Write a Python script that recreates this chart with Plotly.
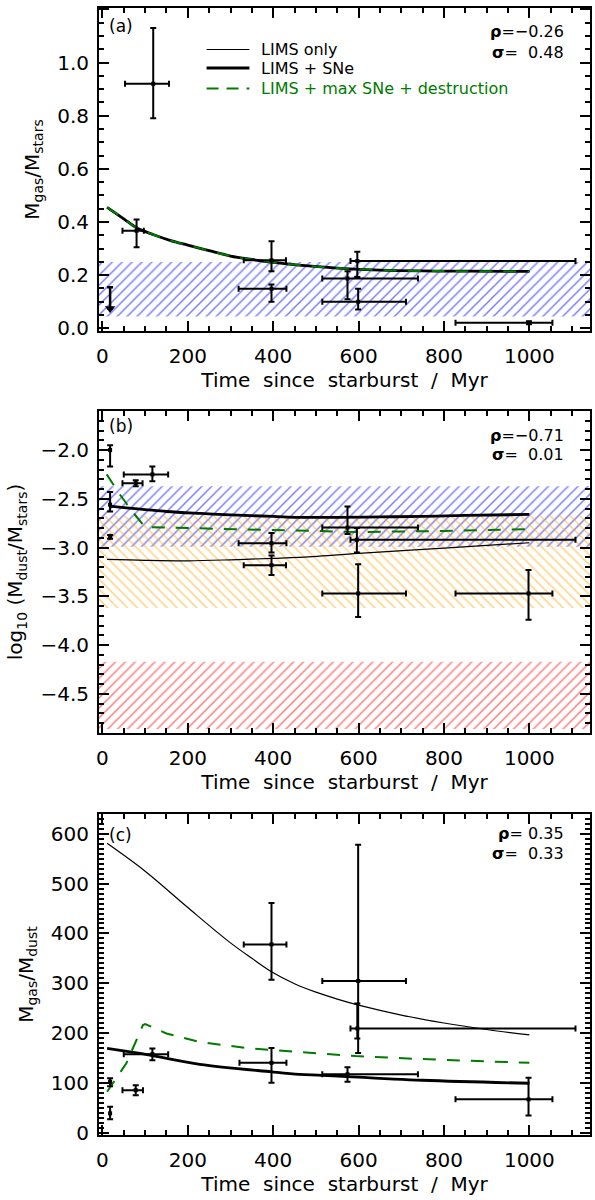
import plotly.graph_objects as go

FONT = "DejaVu Sans"
GREEN = "#007a00"
NB = "\u00a0"

# ---------------- shared x axis ----------------
x_range = [-8, 1142]
x_ticks = [0, 200, 400, 600, 800, 1000]

# ---------------- panel (a): Mgas/Mstars ----------------
a_x = [80, 119, 396, 396, 574, 597, 599, 999]
a_xlo = [47, 53, 319, 331, 515, 581, 515, 827]
a_xhi = [97, 156, 431, 430, 739, 1108, 711, 1054]
a_y = [0.367, 0.92, 0.149, 0.256, 0.1875, 0.253, 0.100, 0.021]
a_ylo = [0.305, 0.79, 0.100, 0.215, 0.109, 0.193, 0.071, 0.015]
a_yhi = [0.409, 1.13, 0.165, 0.328, 0.215, 0.288, 0.149, 0.027]
a_ul_x = [18]
a_ul_top = [0.155]
a_ul_tip = [0.075]
a_band = [0.045, 0.25]
a_model_t = [11, 50, 80, 120, 160, 200, 250, 300, 350, 400, 460, 520, 578, 650, 750, 850, 1000]
a_model_y = [0.455, 0.412, 0.378, 0.352, 0.330, 0.313, 0.292, 0.272, 0.259, 0.248, 0.238,
             0.230, 0.224, 0.219, 0.216, 0.215, 0.214]

# ---------------- panel (b): log10 Mdust/Mstars ----------------
b_x = [18, 18, 18, 78, 117, 396, 396, 574, 596, 599, 998]
b_xlo = [18, 18, 18, 47, 50, 319, 331, 515, 581, 515, 827]
b_xhi = [18, 18, 18, 94, 154, 431, 430, 739, 1108, 711, 1054]
b_y = [-2.00, -2.56, -2.89, -2.34, -2.25, -2.955, -3.18, -2.795, -2.92, -3.47, -3.47]
b_ylo = [-2.17, -2.63, -2.91, -2.37, -2.32, -3.05, -3.28, -2.86, -3.05, -3.71, -3.74]
b_yhi = [-1.95, -2.43, -2.87, -2.31, -2.17, -2.85, -3.08, -2.58, -2.80, -3.17, -3.23]
b_band_blue = [-2.99, -2.37]
b_band_orange = [-3.62, -2.67]
b_band_red = [-4.86, -4.17]
b_thin_t = [11, 100, 200, 300, 400, 460, 600, 800, 1000]
b_thin_y = [-3.12, -3.13, -3.135, -3.125, -3.11, -3.10, -3.06, -3.005, -2.95]
b_thick_t = [17, 50, 100, 150, 230, 300, 400, 460, 550, 650, 750, 850, 1000]
b_thick_y = [-2.575, -2.59, -2.61, -2.63, -2.65, -2.665, -2.68, -2.69, -2.69, -2.685, -2.68, -2.67, -2.66]
b_green_t = [10, 40, 70, 100, 200, 300, 450, 600, 800, 1000]
b_green_y = [-2.25, -2.45, -2.63, -2.79, -2.80, -2.81, -2.82, -2.84, -2.83, -2.81]

# ---------------- panel (c): Mgas/Mdust ----------------
c_x = [18, 18, 78, 117, 396, 396, 574, 597, 599, 998]
c_xlo = [18, 18, 47, 50, 331, 321, 515, 581, 515, 827]
c_xhi = [18, 18, 95, 154, 431, 431, 739, 1108, 711, 1054]
c_y = [102, 38.5, 85, 157.5, 378, 140, 117, 209, 304.5, 66.6]
c_ylo = [93, 26.5, 75, 145, 307, 100, 102, 189, 160, 34]
c_yhi = [109, 52, 95, 169, 461, 170, 131, 259, 578, 110]
c_thin_t = [11, 100, 200, 300, 350, 396, 450, 500, 550, 600, 700, 800, 900, 1000]
c_thin_y = [581, 525, 452, 381, 350, 323, 299, 282, 268, 256, 236, 220, 207, 196]
c_thick_t = [11, 111, 228, 396, 461, 515, 749, 1000]
c_thick_y = [169, 155.5, 137, 122, 117, 115, 105, 99]
c_green_t = [11, 56, 95, 100, 150, 228, 344, 430, 477, 593, 749, 1000]
c_green_y = [82, 139, 216, 218, 199, 182, 169, 163.5, 160, 153.5, 147.5, 140]

stats_rho = ["−0.26", "−0.71", NB + "0.35"]
stats_sig = ["0.48", "0.01", "0.33"]
legend_labels = ["LIMS only", "LIMS + SNe", "LIMS + max SNe + destruction"]

THIN = dict(color="black", width=1.2)
THICK = dict(color="black", width=2.8)
DASHED = dict(color=GREEN, width=2, dash="13px,11px")

fig = go.Figure()


def band(xa, ya, lohi, color, shape):
    lo, hi = lohi
    fig.add_trace(go.Scatter(
        x=[x_range[0], x_range[1], x_range[1], x_range[0]], y=[lo, lo, hi, hi],
        xaxis=xa, yaxis=ya, mode="lines", fill="toself", line=dict(width=0),
        fillcolor="rgba(0,0,0,0)",
        fillpattern=dict(shape=shape, fgcolor=color, bgcolor="rgba(0,0,0,0)",
                         fillmode="overlay", size=7, solidity=0.22),
        showlegend=False, hoverinfo="skip"))


def curve(xa, ya, t, y, line, shape="spline"):
    fig.add_trace(go.Scatter(x=t, y=y, xaxis=xa, yaxis=ya, mode="lines", line=line,
                             line_shape=shape, showlegend=False))


def points(xa, ya, x, xlo, xhi, y, ylo, yhi):
    fig.add_trace(go.Scatter(
        x=x, y=y, xaxis=xa, yaxis=ya, mode="markers",
        marker=dict(symbol="square", size=4, color="black"),
        error_x=dict(type="data", symmetric=False,
                     array=[h - v for h, v in zip(xhi, x)],
                     arrayminus=[v - l for v, l in zip(x, xlo)],
                     color="black", thickness=2, width=3),
        error_y=dict(type="data", symmetric=False,
                     array=[h - v for h, v in zip(yhi, y)],
                     arrayminus=[v - l for v, l in zip(y, ylo)],
                     color="black", thickness=2, width=3),
        showlegend=False))


# panel a
band("x", "y", a_band, "#0000ff", "/")
curve("x", "y", a_model_t, a_model_y, THIN)
curve("x", "y", a_model_t, a_model_y, THICK)
curve("x", "y", a_model_t, a_model_y, DASHED)
points("x", "y", a_x, a_xlo, a_xhi, a_y, a_ylo, a_yhi)
fig.add_trace(go.Scatter(
    x=a_ul_x, y=a_ul_top, xaxis="x", yaxis="y", mode="markers", marker=dict(size=1, color="black"),
    error_y=dict(type="data", symmetric=False, array=[0],
                 arrayminus=[t - b for t, b in zip(a_ul_top, a_ul_tip)],
                 color="black", thickness=2.5, width=3), showlegend=False))
fig.add_trace(go.Scatter(
    x=a_ul_x, y=a_ul_tip, xaxis="x", yaxis="y", mode="markers",
    marker=dict(symbol="triangle-down", size=9, color="black"), showlegend=False))

# panel b
band("x2", "y2", b_band_blue, "#0000ff", "/")
band("x2", "y2", b_band_orange, "#ffa500", "\\")
band("x2", "y2", b_band_red, "#ff0000", "/")
curve("x2", "y2", b_thin_t, b_thin_y, THIN)
curve("x2", "y2", b_thick_t, b_thick_y, THICK)
curve("x2", "y2", b_green_t, b_green_y, DASHED, "linear")
points("x2", "y2", b_x, b_xlo, b_xhi, b_y, b_ylo, b_yhi)

# panel c
curve("x3", "y3", c_thin_t, c_thin_y, THIN)
curve("x3", "y3", c_thick_t, c_thick_y, THICK)
curve("x3", "y3", c_green_t, c_green_y, DASHED, "linear")
points("x3", "y3", c_x, c_xlo, c_xhi, c_y, c_ylo, c_yhi)

# ---------------- layout ----------------
W, H = 595, 1200
L, R, T, B = 99, 3, 8, 65
ph = H - T - B
pw = W - L - R


def dom(t, b):
    return [(H - B - b) / ph, (H - B - t) / ph]


TICKS = dict(ticks="inside", ticklen=10, tickwidth=2, tickcolor="black",
             showline=True, linewidth=2, linecolor="black", showgrid=False, zeroline=False)

xt = "Time" + NB + " since" + NB + " starburst" + NB + " /" + NB + " Myr"
common_x = dict(TICKS, range=x_range, tickvals=x_ticks, mirror="allticks", ticklabelstandoff=6,
                tickfont=dict(family=FONT, size=20, color="black"),
                minor=dict(dtick=50, tick0=0, ticks="inside", ticklen=5, tickwidth=1.5,
                           tickcolor="black", showgrid=False),
                title=dict(text=xt, font=dict(family=FONT, size=20, color="black"), standoff=4))

y_specs = [([-0.01, 1.205], 0.2, 0.05, ".1f", "M<sub>gas</sub>/M<sub>stars</sub>", dom(8, 331)),
           ([-4.9, -1.6], 0.5, 0.1, ".1f",
            "log<sub>10</sub> (M<sub>dust</sub>/M<sub>stars</sub>)", dom(411, 733)),
           ([-5, 640], 100, 10, "d", "M<sub>gas</sub>/M<sub>dust</sub>", dom(814, 1135))]

lay = dict(width=W, height=H, paper_bgcolor="white", plot_bgcolor="white",
           margin=dict(l=L, r=R, t=T, b=B), font=dict(family=FONT, color="black"),
           showlegend=False)

for i, (rng, dtick, minor, fmt, title, domain) in enumerate(y_specs):
    n = "" if i == 0 else str(i + 1)
    yminor = dict(dtick=minor, tick0=0, ticks="inside", ticklen=5, tickwidth=1.5,
                  tickcolor="black", showgrid=False)
    lay["xaxis" + n] = dict(common_x, anchor="y" + n)
    lay["yaxis" + n] = dict(TICKS, range=rng, dtick=dtick, tick0=0, tickformat=fmt,
                            mirror="allticks", domain=domain, anchor="x" + n, ticklabelstandoff=4,
                            tickfont=dict(family=FONT, size=20, color="black"), minor=yminor,
                            title=dict(text=title, font=dict(family=FONT, size=20, color="black"),
                                       standoff=12))
    # explicit top / right axes carrying the mirrored tick marks
    m = str(i + 4)
    lay["xaxis" + m] = dict(TICKS, range=x_range, tickvals=x_ticks, overlaying="x" + n,
                            anchor="y" + n, side="top", showticklabels=False,
                            minor=dict(dtick=50, tick0=0, ticks="inside", ticklen=5,
                                       tickwidth=1.5, tickcolor="black", showgrid=False))
    lay["yaxis" + m] = dict(TICKS, range=rng, dtick=dtick, tick0=0, overlaying="y" + n,
                            anchor="x" + n, side="right", showticklabels=False, minor=yminor)

fig.update_layout(**lay)

# manual legend in panel (a)
a_top, a_h = 8, 323
for i, (lab, line, ypx) in enumerate(zip(legend_labels, [THIN, THICK, DASHED], [49.5, 68, 88.5])):
    yd = 1 - (ypx - a_top) / a_h
    fig.add_shape(type="line", xref="x domain", yref="y domain",
                  x0=(207 - L) / pw, x1=(250 - L) / pw, y0=yd, y1=yd,
                  line=dict(line, dash="12px,8px") if i == 2 else line)
    fig.add_annotation(text=lab, xref="x domain", yref="y domain", x=(260 - L) / pw, y=yd,
                       xanchor="left", yanchor="middle", showarrow=False,
                       font=dict(family=FONT, size=16, color=GREEN if i == 2 else "black"))

panels = [("(a)", "x", "y", 8, 331, 18, 23, 44),
          ("(b)", "x2", "y2", 411, 733, 15, 24, 43),
          ("(c)", "x3", "y3", 814, 1135, 21, 19, 39)]
for (lab, xa, ya, t, b, lab_off, rho_off, sig_off), rho, sig in zip(panels, stats_rho, stats_sig):
    hgt = b - t
    fig.add_annotation(text=lab, xref=f"{xa} domain", yref=f"{ya} domain",
                       x=(107 - L) / pw, y=1 - lab_off / hgt,
                       xanchor="left", yanchor="middle", showarrow=False,
                       font=dict(family=FONT, size=17, color="black"))
    fig.add_annotation(text=f"<b>ρ</b>={rho}", xref=f"{xa} domain",
                       yref=f"{ya} domain", x=(568 - L) / pw, y=1 - rho_off / hgt,
                       xanchor="right", yanchor="middle", showarrow=False,
                       font=dict(family=FONT, size=16, color="black"))
    fig.add_annotation(text=f"<b>σ</b>={NB}{NB}{sig}", xref=f"{xa} domain",
                       yref=f"{ya} domain", x=(568 - L) / pw, y=1 - sig_off / hgt,
                       xanchor="right", yanchor="middle", showarrow=False,
                       font=dict(family=FONT, size=16, color="black"))

fig.write_html("out.html", config={"displayModeBar": False},
               post_script="document.body.style.margin='0px';")
